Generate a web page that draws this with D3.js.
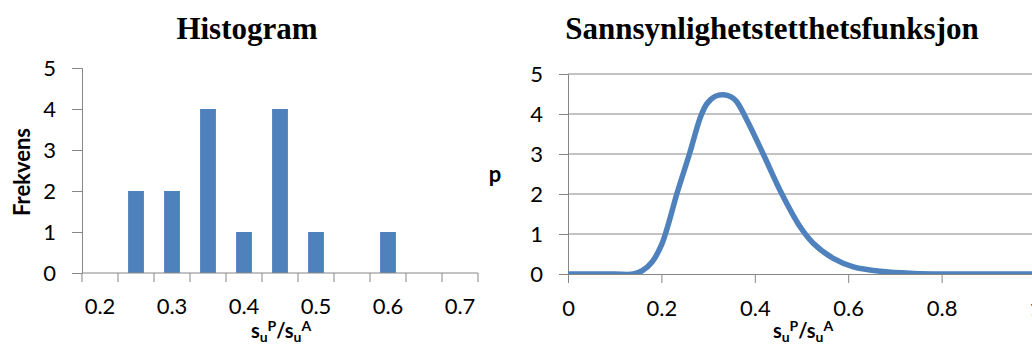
<!DOCTYPE html>
<html>
<head>
<meta charset="utf-8">
<script src="https://cdn.jsdelivr.net/npm/d3@7"></script>
<style>
  body { margin: 0; background: #fff; }
  svg text { font-family: Lato, "Open Sans", sans-serif; fill: #000; }
  .title { font-family: "Liberation Serif", "DejaVu Serif", serif !important; font-weight: bold; font-size: 31px; }
  .tick text { font-size: 22px; }
  .atitle { font-weight: bold; font-size: 20px; }
</style>
</head>
<body>
<svg id="chart" width="1032" height="347"></svg>
<script>

// histogram data
var histCats = ['0.2','0.25','0.3','0.35','0.4','0.45','0.5','0.55','0.6','0.65','0.7'];
var histFreq = [0, 2, 2, 4, 1, 4, 1, 0, 1, 0, 0];
var histYTicks = [0, 1, 2, 3, 4, 5];

// density curve
var pdfX = [0, 0.05, 0.10, 0.14, 0.16, 0.18, 0.20, 0.215, 0.233, 0.26, 0.283, 0.297, 0.315, 0.333, 0.35, 0.361, 0.383, 0.418, 0.458, 0.497, 0.525, 0.568, 0.611, 0.675, 0.74, 0.80, 0.90, 1.0];
var pdfP = [0, 0, 0, 0, 0.09, 0.30, 0.72, 1.25, 2.0, 3.0, 3.9, 4.25, 4.44, 4.48, 4.42, 4.31, 3.85, 3.0, 2.0, 1.18, 0.77, 0.39, 0.18, 0.06, 0.015, 0, 0, 0];
var pdfXTicks = [0, 0.2, 0.4, 0.6, 0.8, 1];
var pdfYTicks = [0, 1, 2, 3, 4, 5];

var blue = '#4f81bd';
var gray = '#868686';

var svg = d3.select('#chart');

// ---- left: histogram ----

var x1 = d3.scaleBand().domain(histCats).range([82, 478]).padding(0);
var y1 = d3.scaleLinear().domain([0, 5]).range([273, 68]);

svg.append('text').attr('class', 'title')
   .attr('x', 247).attr('y', 39).attr('text-anchor', 'middle')
   .text('Histogram');

var barW = x1.bandwidth() * 0.44;

svg.append('g').selectAll('rect')
   .data(histFreq)
   .enter().append('rect')
   .attr('x', function(d, i){ return x1(histCats[i]) + (x1.bandwidth() - barW) / 2; })
   .attr('y', function(d){ return y1(d); })
   .attr('width', barW)
   .attr('height', function(d){ return y1(0) - y1(d); })
   .attr('fill', blue);

var yAx1 = svg.append('g')
   .attr('transform', 'translate(82,0)')
   .call(d3.axisLeft(y1).tickValues(histYTicks).tickSize(10).tickPadding(16).tickFormat(d3.format('d')));

// x axis: labels on every other category, ticks on category borders
var xAx1 = svg.append('g')
   .attr('transform', 'translate(0,273)')
   .call(d3.axisBottom(x1)
        .tickValues(histCats.filter(function(d, i){ return i % 2 == 0; }))
        .tickSize(0).tickPadding(25));

var borders = histCats.map(function(c){ return x1(c); }).concat([x1.range()[1]]);
xAx1.selectAll('.border')
    .data(borders)
    .enter().append('line')
    .attr('class', 'border')
    .attr('x1', function(d){ return d; }).attr('x2', function(d){ return d; })
    .attr('y1', 0).attr('y2', 9)
    .attr('stroke', gray);

svg.append('text').attr('class', 'atitle')
   .attr('transform', 'translate(30,172) rotate(-90)')
   .attr('text-anchor', 'middle')
   .style('font-size', '22px')
   .text('Frekvens');

function ratioTitle(cx){
    var t = svg.append('text').attr('class', 'atitle')
               .attr('x', cx).attr('y', 338).attr('text-anchor', 'middle');
    t.append('tspan').text('s');
    t.append('tspan').attr('dy', 4).style('font-size', '14px').text('u');
    t.append('tspan').attr('dy', -11).style('font-size', '14px').text('P');
    t.append('tspan').attr('dy', 7).text('/s');
    t.append('tspan').attr('dy', 4).style('font-size', '14px').text('u');
    t.append('tspan').attr('dy', -11).style('font-size', '14px').text('A');
}
ratioTitle(281);

// ---- right: density ----

var x2 = d3.scaleLinear().domain([0, 1]).range([568, 1035]);
var y2 = d3.scaleLinear().domain([0, 5]).range([274, 74]);

svg.append('text').attr('class', 'title')
   .attr('x', 772).attr('y', 39).attr('text-anchor', 'middle')
   .text('Sannsynlighetstetthetsfunksjon');

var grid = svg.append('g')
   .attr('transform', 'translate(568,0)')
   .call(d3.axisLeft(y2).tickValues(pdfYTicks).tickSize(9).tickPadding(16).tickFormat(d3.format('d')));

grid.selectAll('.gl')
    .data(pdfYTicks.slice(1))
    .enter().append('line')
    .attr('class', 'gl')
    .attr('x1', 0).attr('x2', 470)
    .attr('y1', function(d){ return y2(d); }).attr('y2', function(d){ return y2(d); })
    .attr('stroke', gray);

var xAx2 = svg.append('g')
   .attr('transform', 'translate(0,274)')
   .call(d3.axisBottom(x2).tickValues(pdfXTicks).tickSize(9).tickPadding(17)
        .tickFormat(function(d){ return d == 0 || d == 1 ? d3.format('d')(d) : d3.format('.1f')(d); }));

svg.append('clipPath').attr('id', 'plot2')
   .append('rect').attr('x', 568).attr('y', 60).attr('width', 470).attr('height', 214);

var line = d3.line()
    .x(function(d, i){ return x2(pdfX[i]); })
    .y(function(d){ return y2(d); })
    .curve(d3.curveCatmullRom.alpha(0.5));

svg.append('path')
   .attr('d', line(pdfP))
   .attr('clip-path', 'url(#plot2)')
   .attr('fill', 'none')
   .attr('stroke', blue)
   .attr('stroke-width', 5.5)
   .attr('stroke-linejoin', 'round');

svg.append('text').attr('class', 'atitle')
   .attr('x', 495).attr('y', 182).attr('text-anchor', 'middle')
   .style('font-size', '22px')
   .text('p');

ratioTitle(803);

// axis styling
svg.selectAll('.domain').attr('stroke', gray);
svg.selectAll('.tick line').attr('stroke', gray);
svg.selectAll('.tick text').attr('fill', '#000');
xAx1.select('.domain').attr('d', 'M82,0H478');

</script>
</body>
</html>
